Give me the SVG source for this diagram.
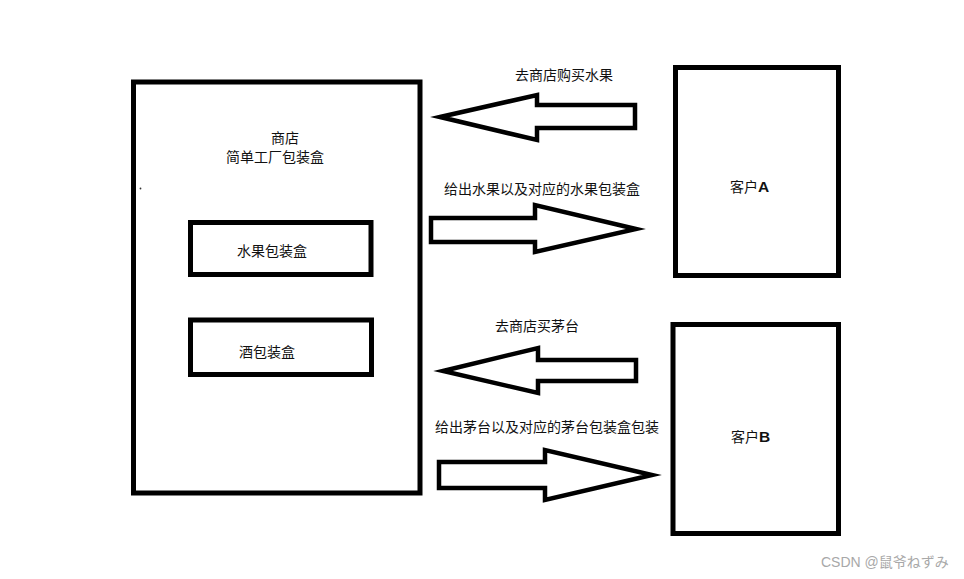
<svg xmlns="http://www.w3.org/2000/svg" width="964" height="579" viewBox="0 0 964 579">
<style>
.box{fill:#fff;stroke:#000;stroke-width:5}
.arr{fill:#fff;stroke:#000;stroke-width:4.5;stroke-linejoin:miter;stroke-miterlimit:10}
text{font-family:"Liberation Sans","Noto Sans CJK SC",sans-serif;font-size:14px;fill:#111}
.b{font-weight:bold;font-size:15.5px}
.wm{fill:#a8a8a8;font-size:14px}
</style>
<rect width="964" height="579" fill="#fff"/>
<g id="shop">
<rect class="box" x="133.5" y="82" width="286.5" height="411"/>
<text x="285" y="143" text-anchor="middle">商店</text>
<text x="275" y="162" text-anchor="middle">简单工厂包装盒</text>
<circle cx="140.5" cy="188.5" r="0.9" fill="#333"/>
</g>
<g id="fruit-box">
<rect class="box" x="190.5" y="222.5" width="180.5" height="52"/>
<text x="237" y="256">水果包装盒</text>
</g>
<g id="wine-box">
<rect class="box" x="190.5" y="320" width="181" height="54.5"/>
<text x="239" y="357">酒包装盒</text>
</g>
<g id="client-a">
<rect class="box" x="675.5" y="67.5" width="163" height="208"/>
<text x="730" y="192">客户<tspan class="b">A</tspan></text>
</g>
<g id="client-b">
<rect class="box" x="673" y="324.5" width="165.5" height="209"/>
<text x="731" y="441.5">客户<tspan class="b">B</tspan></text>
</g>
<g id="connectors">
<polygon class="arr" points="440,117 537,95 537,105 635,105 635,128 537,128 537,140"/>
<text x="515" y="80">去商店购买水果</text>
<polygon class="arr" points="431,218 535,218 535,205 636,229 535,252 535,242 431,242"/>
<text x="444" y="194">给出水果以及对应的水果包装盒</text>
<polygon class="arr" points="443,371 538,348 538,360 636,360 636,381 538,381 538,393"/>
<text x="495" y="331">去商店买茅台</text>
<polygon class="arr" points="439,462 545,462 545,450 652,475 545,500 545,488 439,488"/>
<text x="435" y="432">给出茅台以及对应的茅台包装盒包装</text>
</g>
<text class="wm" x="821" y="567">CSDN @鼠爷ねずみ</text>
</svg>
